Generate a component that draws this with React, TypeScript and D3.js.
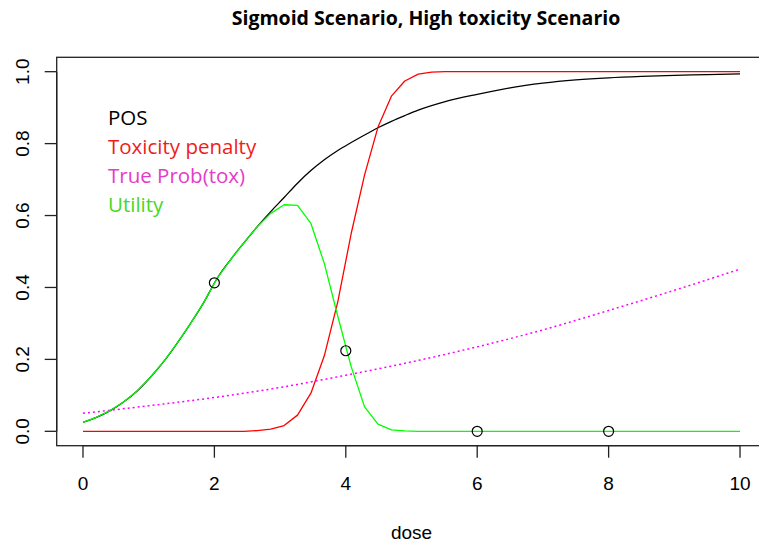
import React from "react";
import * as d3 from "d3";

const W = 759;
const H = 543;

const xTicks = [0, 2, 4, 6, 8, 10];
const yTicks = [0, 0.2, 0.4, 0.6, 0.8, 1.0];
const yTickLabels = ["0.0", "0.2", "0.4", "0.6", "0.8", "1.0"];

const titleText = "Sigmoid Scenario, High toxicity Scenario";
const xLabel = "dose";

// POS (black)
const posDose = [0, 0.204, 0.408, 0.612, 0.816, 1.02, 1.224, 1.429, 1.633, 1.837, 2.041, 2.245, 2.449, 2.653, 2.857, 3.061, 3.265, 3.469, 3.673, 3.878, 4.082, 4.286, 4.49, 4.694, 4.898, 5.102, 5.5, 6, 6.5, 7, 7.5, 8, 8.5, 9, 9.5, 10];
const posValue = [0.025, 0.039, 0.057, 0.081, 0.111, 0.149, 0.193, 0.244, 0.299, 0.358, 0.425, 0.477, 0.524, 0.569, 0.611, 0.65, 0.69, 0.725, 0.755, 0.781, 0.803, 0.824, 0.844, 0.862, 0.878, 0.893, 0.916, 0.937, 0.955, 0.968, 0.977, 0.983, 0.987, 0.99, 0.992, 0.994];

// Toxicity penalty (red)
const penDose = [0, 2.449, 2.653, 2.857, 3.061, 3.265, 3.469, 3.673, 3.878, 4.082, 4.286, 4.49, 4.694, 4.898, 5.102, 5.306, 5.51, 10];
const penValue = [0, 0, 0.002, 0.006, 0.016, 0.045, 0.106, 0.21, 0.36, 0.55, 0.713, 0.846, 0.932, 0.974, 0.993, 0.999, 1, 1];

// True Prob(tox) (magenta, dotted)
const toxDose = [0, 1, 2, 3, 4, 5, 6, 7, 8, 9, 10];
const toxValue = [0.05, 0.071, 0.094, 0.122, 0.156, 0.193, 0.235, 0.282, 0.336, 0.392, 0.451];

// Utility (green)
const utilDose = [0, 0.204, 0.408, 0.612, 0.816, 1.02, 1.224, 1.429, 1.633, 1.837, 2.041, 2.245, 2.449, 2.653, 2.857, 3.061, 3.265, 3.469, 3.673, 3.878, 4.082, 4.286, 4.49, 4.694, 4.898, 5.102, 10];
const utilValue = [0.025, 0.039, 0.057, 0.081, 0.111, 0.149, 0.193, 0.244, 0.299, 0.358, 0.425, 0.477, 0.524, 0.569, 0.606, 0.63, 0.628, 0.578, 0.467, 0.32, 0.18, 0.068, 0.02, 0.004, 0.001, 0, 0];

// Circles at tested doses
const markDose = [2, 4, 6, 8];
const markValue = [0.413, 0.224, 0, 0];

const legendLabels = ["POS", "Toxicity penalty", "True Prob(tox)", "Utility"];
const legendColors = ["#000000", "#f01c1c", "#e53bc9", "#46d823"];

const plotLeft = 56.7;
const plotRight = 766.3;
const plotTop = 57.3;
const plotBottom = 445.7;

export default function App() {
  const x = d3.scaleLinear().domain([-0.4, 10.4]).range([plotLeft, plotRight]);
  const y = d3.scaleLinear().domain([-0.04, 1.04]).range([plotBottom, plotTop]);

  const linear = d3
    .line<[number, number]>()
    .x((d) => x(d[0]))
    .y((d) => y(d[1]));
  const smooth = d3
    .line<[number, number]>()
    .x((d) => x(d[0]))
    .y((d) => y(d[1]))
    .curve(d3.curveMonotoneX);

  const zip = (a: number[], b: number[]) => a.map((v, i) => [v, b[i]] as [number, number]);

  const axisFont = "'Liberation Sans', Arial, Helvetica, sans-serif";
  const legendFont = "'Open Sans', 'Noto Sans', sans-serif";

  return (
    <div style={{ position: "fixed", left: 0, top: 0, width: W, height: H, background: "#fff" }}>
      <svg width={W} height={H} viewBox={`0 0 ${W} ${H}`} style={{ display: "block" }}>
        <rect x={0} y={0} width={W} height={H} fill="#fff" />
        <defs>
          <clipPath id="plotClip">
            <rect x={plotLeft} y={plotTop} width={plotRight - plotLeft} height={plotBottom - plotTop} />
          </clipPath>
        </defs>

        {/* Title */}
        <text
          x={426}
          y={25}
          textAnchor="middle"
          fontFamily={legendFont}
          fontWeight="bold"
          fontSize={19.5}
          fill="#000"
        >
          {titleText}
        </text>

        {/* Series */}
        <g clipPath="url(#plotClip)" fill="none" strokeLinejoin="round">
          <path d={smooth(zip(posDose, posValue)) || ""} stroke="#000" strokeWidth={1.3} />
          <path d={linear(zip(penDose, penValue)) || ""} stroke="#ff0000" strokeWidth={1.3} />
          <path d={smooth(zip(toxDose, toxValue)) || ""} stroke="#ff00ff" strokeWidth={1.5} strokeDasharray="2,3" />
          <path d={linear(zip(utilDose, utilValue)) || ""} stroke="#00ff00" strokeWidth={1.3} />
          {markDose.map((d, i) => (
            <circle key={i} cx={x(d)} cy={y(markValue[i])} r={5} fill="none" stroke="#000" strokeWidth={1.2} />
          ))}
        </g>

        {/* Box */}
        <rect
          x={plotLeft}
          y={plotTop}
          width={plotRight - plotLeft}
          height={plotBottom - plotTop}
          fill="none"
          stroke="#222"
          strokeWidth={1.3}
        />

        {/* X axis */}
        <line x1={x(xTicks[0])} x2={x(xTicks[xTicks.length - 1])} y1={plotBottom} y2={plotBottom} stroke="#222" strokeWidth={1.3} />
        {xTicks.map((t) => (
          <g key={t}>
            <line x1={x(t)} x2={x(t)} y1={plotBottom} y2={plotBottom + 12} stroke="#222" strokeWidth={1.3} />
            <text x={x(t)} y={490} textAnchor="middle" fontFamily={axisFont} fontSize={19} fill="#000">
              {t}
            </text>
          </g>
        ))}
        <text x={(plotLeft + plotRight) / 2} y={539} textAnchor="middle" fontFamily={axisFont} fontSize={19} fill="#000">
          {xLabel}
        </text>

        {/* Y axis */}
        <line x1={plotLeft} x2={plotLeft} y1={y(yTicks[0])} y2={y(yTicks[yTicks.length - 1])} stroke="#222" strokeWidth={1.3} />
        {yTicks.map((t, i) => (
          <g key={t}>
            <line x1={plotLeft - 12} x2={plotLeft} y1={y(t)} y2={y(t)} stroke="#222" strokeWidth={1.3} />
            <text
              transform={`translate(29, ${y(t)}) rotate(-90)`}
              textAnchor="middle"
              fontFamily={axisFont}
              fontSize={19}
              fill="#000"
            >
              {yTickLabels[i]}
            </text>
          </g>
        ))}

        {/* Legend */}
        {legendLabels.map((lab, i) => (
          <text key={lab} x={108} y={125 + i * 29} fontFamily={legendFont} fontSize={20.5} fill={legendColors[i]}>
            {lab}
          </text>
        ))}
      </svg>
    </div>
  );
}
